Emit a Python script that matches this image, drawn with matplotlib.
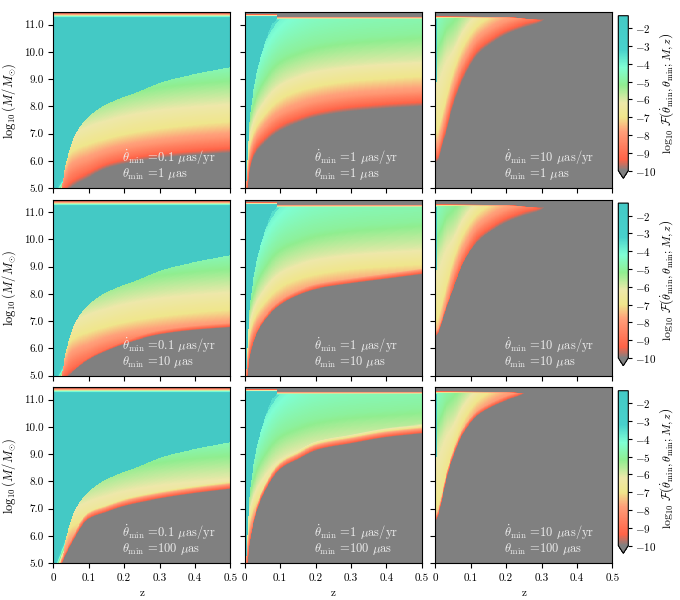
import numpy as np
import matplotlib
matplotlib.use("Agg")
import matplotlib.pyplot as plt
from matplotlib.colors import LinearSegmentedColormap

plt.rcParams['font.family'] = 'serif'
plt.rcParams['font.serif'] = ['cmr10']
plt.rcParams['mathtext.fontset'] = 'cm'
plt.rcParams['axes.unicode_minus'] = False
plt.rcParams['axes.formatter.use_mathtext'] = True

# panel labels: columns = thetadot_min (uas/yr), rows = theta_min (uas)
thetadot_labels = ['0.1', '1', '10']
theta_labels = ['1', '10', '100']

# log10 F levels, and the log10 M where each level is crossed
levels = [-10, -9, -8, -7, -6, -5, -4]

# column 1: thetadot_min = 0.1 uas/yr
c1_z = [0, 0.02, 0.05, 0.1, 0.15, 0.2, 0.3, 0.4, 0.5]
c1_m10 = [4.0, 4.6, 5.0, 5.37, 5.7, 5.87, 6.08, 6.2, 6.28]
c1_m9 = [4.2, 4.8, 5.3, 5.65, 5.95, 6.12, 6.33, 6.45, 6.53]
c1_m8 = [4.4, 5.0, 5.75, 6.05, 6.3, 6.46, 6.66, 6.8, 6.9]
c1_m7 = [4.6, 5.3, 6.3, 6.6, 6.8, 6.96, 7.18, 7.32, 7.42]
c1_m6 = [4.8, 5.8, 7.0, 7.4, 7.6, 7.78, 8.0, 8.13, 8.22]
c1_m5 = [5.0, 6.5, 7.8, 8.2, 8.45, 8.62, 8.85, 9.0, 9.1]
c1_m4 = [5.5, 7.4, 8.6, 9.0, 9.3, 9.5, 9.7, 9.85, 9.95]
c1_cyan_z = [0, 0.024, 0.038, 0.064, 0.094, 0.14, 0.236, 0.32, 0.45, 0.5]
c1_cyan = [3.0, 5.0, 6.0, 7.0, 7.52, 8.0, 8.5, 8.93, 9.3, 9.42]
c1_top_z = [0, 0.5]
c1_top_gray = [11.41, 11.41]
c1_top_full = [11.23, 11.23]
c1_edge_r2 = [4.0, 4.6, 5.08, 5.58, 5.9, 6.15, 6.5, 6.67, 6.77]
c1_edge_r3 = [4.0, 4.8, 5.65, 6.6, 6.85, 7.07, 7.34, 7.54, 7.7]

# column 2: thetadot_min = 1 uas/yr
c2_z = [0, 0.01, 0.02, 0.05, 0.1, 0.15, 0.2, 0.3, 0.4, 0.5]
c2_m10 = [4.0, 5.3, 6.0, 6.58, 7.1, 7.38, 7.59, 7.8, 7.91, 7.99]
c2_m9 = [4.3, 5.6, 6.25, 6.85, 7.38, 7.65, 7.85, 8.07, 8.18, 8.25]
c2_m8 = [4.6, 5.9, 6.5, 7.15, 7.7, 7.98, 8.18, 8.38, 8.48, 8.55]
c2_m7 = [5.0, 6.3, 6.9, 7.6, 8.25, 8.55, 8.72, 8.92, 9.02, 9.1]
c2_m6 = [5.5, 6.8, 7.4, 8.2, 8.9, 9.2, 9.38, 9.55, 9.65, 9.72]
c2_m5 = [6.0, 7.4, 8.0, 9.0, 9.8, 10.1, 10.3, 10.5, 10.6, 10.7]
c2_m4 = [7.0, 8.2, 9.0, 10.2, 11.2, 11.7, 12.0, 12.3, 12.5, 12.6]
c2_cyan_z = [0, 0.003, 0.01, 0.017, 0.029, 0.048, 0.076, 0.09, 0.092, 0.5]
c2_cyan = [4.0, 5.0, 7.0, 8.0, 9.0, 10.0, 11.0, 11.25, 13.0, 13.0]
c2_top_z = [0, 0.089, 0.091, 0.5]
c2_top_gray = [11.37, 11.37, 11.29, 11.29]
c2_top_full = [11.27, 11.27, 11.13, 11.13]
c2_edge_r2 = [4.0, 5.4, 6.07, 6.93, 7.6, 7.95, 8.17, 8.38, 8.55, 8.72]
c2_edge_r3 = [4.0, 5.35, 6.23, 7.46, 8.44, 8.8, 9.12, 9.37, 9.6, 9.74]

# column 3: thetadot_min = 10 uas/yr
c3_z = [0, 0.01, 0.02, 0.03, 0.05, 0.08, 0.12, 0.16, 0.2, 0.25, 0.3, 0.35, 0.5]
c3_m10 = [5.9, 6.05, 6.55, 6.95, 7.97, 9.0, 9.88, 10.3, 10.62, 10.88, 11.08, 12.0, 12.0]
c3_m9 = [6.1, 6.3, 6.8, 7.25, 8.3, 9.3, 10.15, 10.55, 10.85, 11.08, 11.25, 12.2, 12.2]
c3_m8 = [6.4, 6.6, 7.1, 7.6, 8.6, 9.6, 10.45, 10.85, 11.1, 11.3, 11.45, 12.4, 12.4]
c3_m7 = [6.9, 7.2, 7.7, 8.2, 9.2, 10.2, 10.95, 11.3, 11.55, 11.75, 11.9, 12.6, 12.6]
c3_m6 = [9.0, 9.3, 9.6, 9.9, 10.2, 10.9, 11.5, 11.9, 12.1, 12.3, 12.5, 12.8, 12.8]
c3_m5 = [10.2, 10.4, 10.7, 11.0, 11.3, 11.7, 12.1, 12.3, 12.5, 12.7, 12.8, 13.0, 13.0]
c3_m4 = [12.0, 12.2, 12.4, 12.5, 12.6, 12.7, 12.8, 12.9, 13.0, 13.1, 13.2, 13.2, 13.2]
c3_cyan_z = [0, 0.004, 0.005, 0.5]
c3_cyan = [8.9, 8.9, 13.0, 13.0]
c3_top_z = [0, 0.2, 0.3, 0.5]
c3_top_gray = [11.3, 11.28, 11.18, 11.18]
c3_top_full = [11.17, 11.15, 11.05, 11.05]
c3_edge_r2 = [6.4, 6.6, 7.0, 7.4, 8.15, 9.15, 9.93, 10.33, 10.63, 10.88, 11.08, 12.0, 12.0]
c3_edge_r3 = [6.45, 6.8, 7.35, 7.95, 8.85, 9.75, 10.4, 10.72, 10.95, 11.2, 12.0, 12.5, 12.5]

vmin, vmax = -10.0, -1.3
ramp = 12.0  # steepness of the theta_min cut-off, per dex in M

cmap_vals = [-10, -9.4, -8.6, -7.8, -7.0, -6.2, -5.2, -4.2, -3.2, -1.3]
cmap_cols = ['#808080', '#ff6347', '#ff8060', '#ffa07a', '#f0e68c', '#eee8aa',
             '#90ee90', '#7fffd4', '#48d1cc', '#44c9c5']
cmap = LinearSegmentedColormap.from_list(
    'frac', [((v - vmin) / (vmax - vmin), c) for v, c in zip(cmap_vals, cmap_cols)])
cmap.set_under('#808080')

zg = np.linspace(0, 0.5, 401)
mg = np.linspace(5.0, 11.45, 521)


def pchip(x, xk, yk):
    # monotone cubic curve through the read-off points
    xk = np.asarray(xk, float)
    yk = np.asarray(yk, float)
    h = np.diff(xk)
    d = np.diff(yk) / h
    m = np.zeros_like(yk)
    m[0], m[-1] = d[0], d[-1]
    for k in range(1, len(xk) - 1):
        if d[k - 1] * d[k] > 0:
            w1 = 2 * h[k] + h[k - 1]
            w2 = h[k] + 2 * h[k - 1]
            m[k] = (w1 + w2) / (w1 / d[k - 1] + w2 / d[k])
    i = np.clip(np.searchsorted(xk, x) - 1, 0, len(xk) - 2)
    t = (x - xk[i]) / h[i]
    h00 = 2 * t**3 - 3 * t**2 + 1
    h10 = t**3 - 2 * t**2 + t
    h01 = -2 * t**3 + 3 * t**2
    h11 = t**3 - t**2
    return h00 * yk[i] + h10 * h[i] * m[i] + h01 * yk[i + 1] + h11 * h[i] * m[i + 1]


def field(zk, crossings, edge, cz, cm, tz, tgray, tfull):
    cross = np.array([pchip(zg, zk, c) for c in crossings])
    cross = np.maximum.accumulate(cross + np.arange(len(levels))[:, None] * 1e-4, axis=0)
    edge_z = pchip(zg, zk, edge)
    cyan_z = pchip(zg, cz, cm)
    tg = pchip(zg, tz, tgray)
    tf = pchip(zg, tz, tfull)
    img = np.empty((mg.size, zg.size))
    for j in range(zg.size):
        col = np.interp(mg, cross[:, j], levels, left=-10.5, right=-3.5)
        col[mg > cyan_z[j]] = vmax + 0.5
        col = np.minimum(col, -10 + ramp * (mg - edge_z[j]))
        col = np.minimum(col, vmax - (mg - tf[j]) / (tg[j] - tf[j]) * (vmax - vmin))
        img[:, j] = col
    return img


columns = [
    (c1_z, [c1_m10, c1_m9, c1_m8, c1_m7, c1_m6, c1_m5, c1_m4],
     [c1_m10, c1_edge_r2, c1_edge_r3], c1_cyan_z, c1_cyan, c1_top_z, c1_top_gray, c1_top_full),
    (c2_z, [c2_m10, c2_m9, c2_m8, c2_m7, c2_m6, c2_m5, c2_m4],
     [c2_m10, c2_edge_r2, c2_edge_r3], c2_cyan_z, c2_cyan, c2_top_z, c2_top_gray, c2_top_full),
    (c3_z, [c3_m10, c3_m9, c3_m8, c3_m7, c3_m6, c3_m5, c3_m4],
     [c3_m10, c3_edge_r2, c3_edge_r3], c3_cyan_z, c3_cyan, c3_top_z, c3_top_gray, c3_top_full),
]

fig = plt.figure(figsize=(6.8, 6.0), dpi=100)
W, H = 680.0, 600.0
col_left = [53.3, 244.7, 435.3]
row_bottom = [188.3, 375.7, 563.3]
ax_w, ax_h = 177.0, 176.0

cb_label = r'$\log_{10}\,\mathcal{F}\left(\dot{\theta}_{\rm min},\theta_{\rm min};M,z\right)$'

for r in range(3):
    for c in range(3):
        zk, crossings, edges, cz, cm, tz, tgray, tfull = columns[c]
        img = field(zk, crossings, edges[r], cz, cm, tz, tgray, tfull)
        ax = fig.add_axes([col_left[c] / W, 1 - row_bottom[r] / H, ax_w / W, ax_h / H])
        im = ax.imshow(img, origin='lower', extent=[0, 0.5, 5.0, 11.45], aspect='auto',
                       cmap=cmap, vmin=vmin, vmax=vmax, interpolation='nearest')
        ax.set_xlim(0, 0.5)
        ax.set_ylim(5.0, 11.45)
        ax.set_xticks([0, 0.1, 0.2, 0.3, 0.4, 0.5])
        ax.set_yticks([5, 6, 7, 8, 9, 10, 11])
        ax.tick_params(labelsize=8, length=3.5)
        if r == 2:
            ax.set_xticklabels(['0', '0.1', '0.2', '0.3', '0.4', '0.5'])
            ax.set_xlabel('z', fontsize=8)
        else:
            ax.set_xticklabels([])
        if c == 0:
            ax.set_yticklabels(['%.1f' % v for v in range(5, 12)])
            ax.set_ylabel(r'$\log_{10}(M/M_{\odot})$', fontsize=9, labelpad=4)
        else:
            ax.set_yticklabels([])
        txt = (r'$\dot{\theta}_{\rm min}$ =' + thetadot_labels[c] + r' $\mu$as/yr' + '\n'
               + r'$\theta_{\rm min}$ =' + theta_labels[r] + r' $\mu$as')
        ax.text(0.39, 0.035, txt, transform=ax.transAxes, color='0.93', fontsize=9,
                ha='left', va='bottom', linespacing=0.9)
    cax = fig.add_axes([618.3 / W, 1 - (row_bottom[r] - 10.0) / H, 10.0 / W, 162.6 / H])
    cb = fig.colorbar(im, cax=cax, extend='min', ticks=list(range(-10, -1)))
    cb.ax.set_yticklabels(['$%d$' % t for t in range(-10, -1)])
    cb.ax.tick_params(labelsize=8, length=3, pad=2)
    cb.set_label(cb_label, fontsize=8.5, labelpad=1)

fig.savefig('out.png', dpi=100)
